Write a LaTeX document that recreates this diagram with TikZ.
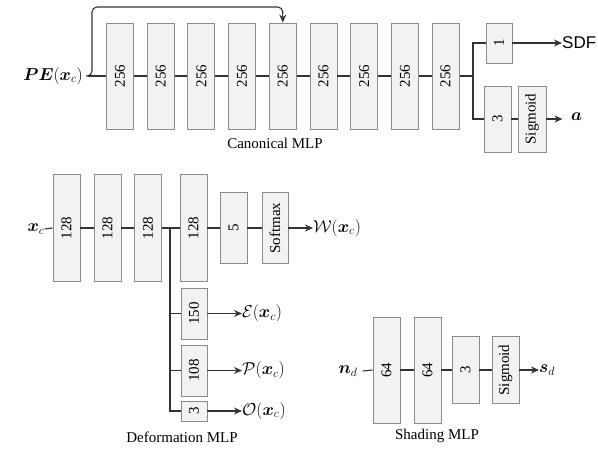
\documentclass[tikz,border=0pt]{standalone}
\usepackage{amsmath,bm}
\usepackage{fontspec}
\setmainfont{Liberation Serif}
\newfontfamily\sdffont{Liberation Sans}
\usetikzlibrary{arrows.meta}
\definecolor{boxfill}{HTML}{F2F2F2}
\definecolor{boxline}{HTML}{8C8C8C}
\definecolor{wire}{HTML}{333333}
\tikzset{
  layer/.style={draw=boxline, fill=boxfill, line width=0.9pt, inner sep=0pt,
    font=\fontsize{15}{18}\selectfont},
  lbl/.style={inner sep=0pt, font=\fontsize{15}{18}\selectfont},
  mlbl/.style={inner sep=0pt, font=\fontsize{17.5}{20}\selectfont},
  wireline/.style={draw=wire, line width=1.1pt},
  arr/.style={wireline, -{Stealth[length=8pt,width=7pt]}},
}
\newcommand{\rt}[1]{\rotatebox{90}{#1}}
\begin{document}
\begin{tikzpicture}[x=1pt,y=-1pt]
\useasboundingbox (0,0) rectangle (598,453);
% ---------------- Canonical MLP ----------------
\foreach \i/\x in {1/120,2/160.7,3/201.4,4/242.1,5/282.8,6/323.5,7/364.2,8/404.9,9/445.6}{
  \node[layer, minimum width=27pt, minimum height=106pt] (c\i) at (\x,76) {\rt{256}};
}
\foreach \i/\j in {1/2,2/3,3/4,4/5,5/6,6/7,7/8,8/9}{
  \draw[wireline] (c\i.east) -- (c\j.west);
}
\node[mlbl, font=\fontsize{16.5}{20}\selectfont] (pe) at (53,76) {$\bm{PE}(\bm{x}_c)$};
\draw[wireline] (pe.east) ++(5,0) -- (c1.west);
\coordinate (skip) at (92,76);
\draw[wireline, rounded corners=5pt] (86,76) -- (skip) -- (92,7) -- (282.8,7) -- (282.8,14);
\draw[arr] (282.8,12) -- (c5.north);
\coordinate (cbr) at (473,76);
\draw[wireline] (c9.east) -- (cbr);
\node[layer, minimum width=26pt, minimum height=40pt] (h1) at (499,43) {\rt{1}};
\node[layer, minimum width=27pt, minimum height=66pt] (h3) at (497.5,119) {\rt{3}};
\node[layer, minimum width=28pt, minimum height=66pt] (hs) at (532,119) {\rt{Sigmoid}};
\draw[wireline] (h1.west) -| (cbr);
\draw[wireline] (h3.west) -| (cbr);
\draw[wireline] (h3.east) -- (hs.west);
\node[lbl, anchor=west, font=\fontsize{17}{20}\selectfont] (sdf) at (562,43) {\sdffont SDF};
\draw[arr] (h1.east) -- (sdf.west);
\node[mlbl, anchor=west] (acol) at (571,117) {$\bm{a}$};
\draw[arr] (hs.east) -- ++(16,0);
\node[lbl] (clab) at (275,143) {Canonical MLP};
% ---------------- Deformation MLP ----------------
\foreach \i/\x in {1/66.5,2/107.5,3/148,4/193.5}{
  \node[layer, minimum width=27pt, minimum height=107pt] (d\i) at (\x,228) {\rt{128}};
}
\node[layer, minimum width=27pt, minimum height=71pt] (d5) at (233.5,228) {\rt{5}};
\node[layer, minimum width=26pt, minimum height=71pt] (dsm) at (275,228) {\rt{Softmax}};
\node[mlbl] (xc) at (36,229) {$\bm{x}_c$};
\draw[wireline] (xc.east) -- (d1.west);
\draw[wireline] (d1.east) -- (d2.west);
\draw[wireline] (d2.east) -- (d3.west);
\draw[wireline] (d3.east) -- (d4.west);
\draw[wireline] (d4.east) -- (d5.west);
\draw[wireline] (d5.east) -- (dsm.west);
\node[mlbl, anchor=west] (wout) at (313,228) {$\mathcal{W}(\bm{x}_c)$};
\draw[arr] (dsm.east) -- (wout.west);
\coordinate (dbr) at (170,228);
\node[layer, minimum width=26pt, minimum height=51pt] (de) at (194,313.5) {\rt{150}};
\node[layer, minimum width=26pt, minimum height=51pt] (dp) at (194,370.5) {\rt{108}};
\node[layer, minimum width=26pt, minimum height=20pt] (do) at (194,411) {\rt{3}};
\draw[wireline] (do.west) -| (dbr);
\draw[wireline] (de.west) -- (de.west -| dbr);
\draw[wireline] (dp.west) -- (dp.west -| dbr);
\node[mlbl, anchor=west] (eout) at (242,313.5) {$\mathcal{E}(\bm{x}_c)$};
\node[mlbl, anchor=west] (pout) at (242,370.5) {$\mathcal{P}(\bm{x}_c)$};
\node[mlbl, anchor=west] (oout) at (242,411) {$\mathcal{O}(\bm{x}_c)$};
\draw[arr] (de.east) -- (eout.west);
\draw[arr] (dp.east) -- (pout.west);
\draw[arr] (do.east) -- (oout.west);
\node[lbl] (dlab) at (182,437) {Deformation MLP};
% ---------------- Shading MLP ----------------
\node[layer, minimum width=27pt, minimum height=106pt] (s1) at (386.5,370) {\rt{64}};
\node[layer, minimum width=27pt, minimum height=106pt] (s2) at (427.5,370) {\rt{64}};
\node[layer, minimum width=27pt, minimum height=67pt] (s3) at (465.5,370) {\rt{3}};
\node[layer, minimum width=27pt, minimum height=67pt] (s4) at (505.5,370) {\rt{Sigmoid}};
\node[mlbl] (nd) at (348,371) {$\bm{n}_d$};
\draw[wireline] (nd.east) ++(5,0) -- (s1.west);
\draw[wireline] (s1.east) -- (s2.west);
\draw[wireline] (s2.east) -- (s3.west);
\draw[wireline] (s3.east) -- (s4.west);
\node[mlbl, anchor=west] (sd) at (539,370) {$\bm{s}_d$};
\draw[arr] (s4.east) -- (sd.west);
\node[lbl] (slab) at (437,436) {Shading MLP};
\end{tikzpicture}
\end{document}
